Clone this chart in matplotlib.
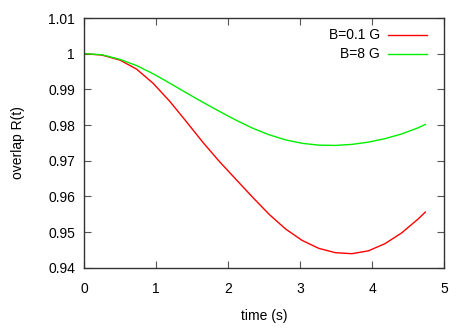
"""
Overlap R(t) vs time for two field values (gnuplot-style figure)
"""
import matplotlib

matplotlib.use("Agg")

import matplotlib.pyplot as plt

plt.rcParams['font.family'] = ['Liberation Sans', 'DejaVu Sans']

# values
t_vals = [0, 0.25, 0.5, 0.73, 0.96, 1.19, 1.42, 1.65, 1.88, 2.11, 2.34, 2.57,
          2.80, 3.03, 3.26, 3.49, 3.72, 3.95, 4.18, 4.41, 4.64, 4.74]
r_red = [1.00000, 0.99960, 0.99820, 0.99567, 0.99170, 0.98666, 0.98099,
         0.97518, 0.96978, 0.96478, 0.95980, 0.95499, 0.95085, 0.94765,
         0.94543, 0.94422, 0.94393, 0.94473, 0.94674, 0.94973, 0.95364,
         0.95559]
r_green = [1.00000, 0.99970, 0.99840, 0.99667, 0.99437, 0.99175, 0.98904,
           0.98639, 0.98384, 0.98137, 0.97913, 0.97727, 0.97584, 0.97487,
           0.97436, 0.97428, 0.97457, 0.97520, 0.97618, 0.97748, 0.97921,
           0.98015]

labels = ["B=0.1 G", "B=8 G"]
colors = ["#ff0000", "#00ee00"]

xticks = [0, 1, 2, 3, 4, 5]
yticks = [0.94, 0.95, 0.96, 0.97, 0.98, 0.99, 1.00, 1.01]
ytick_labels = ["0.94", "0.95", "0.96", "0.97", "0.98", "0.99", "1", "1.01"]

fig = plt.figure(figsize=(4.69, 3.28), dpi=100)
ax = fig.add_axes([0.1791, 0.1838, 0.7676, 0.7613])

ax.plot(t_vals, r_red, color=colors[0], lw=1.0)
ax.plot(t_vals, r_green, color=colors[1], lw=1.0)

ax.set_xlim(0, 5)
ax.set_ylim(0.94, 1.01)
ax.set_xticks(xticks)
ax.set_xticklabels([str(x) for x in xticks])
ax.set_yticks(yticks)
ax.set_yticklabels(ytick_labels)

ax.tick_params(axis='both', direction='in', length=5, width=0.8,
               color='#555555', labelsize=10, top=True, right=True)
ax.tick_params(axis='x', pad=10)
ax.tick_params(axis='y', pad=6.5)
for s in ax.spines.values():
    s.set_color('#333333')
    s.set_linewidth(1.0)

ax.set_xlabel("time (s)", fontsize=10)
ax.xaxis.set_label_coords(0.5, -0.192)
ax.xaxis.label.set_va('center')
ax.set_ylabel("overlap R(t)", fontsize=10)
ax.yaxis.set_label_coords(-0.183, 0.5)
ax.yaxis.label.set_va('center')

# gnuplot-style key: right-aligned text, sample line to the right
key_y = [0.9319, 0.8558]
for lab, col, yk in zip(labels, colors, key_y):
    ax.text(0.8222, yk, lab, ha='right', va='center', fontsize=10,
            transform=ax.transAxes)
    ax.plot([0.8444, 0.9528], [yk, yk], color=col, lw=1.0,
            transform=ax.transAxes)

fig.savefig("out.png", dpi=100)
